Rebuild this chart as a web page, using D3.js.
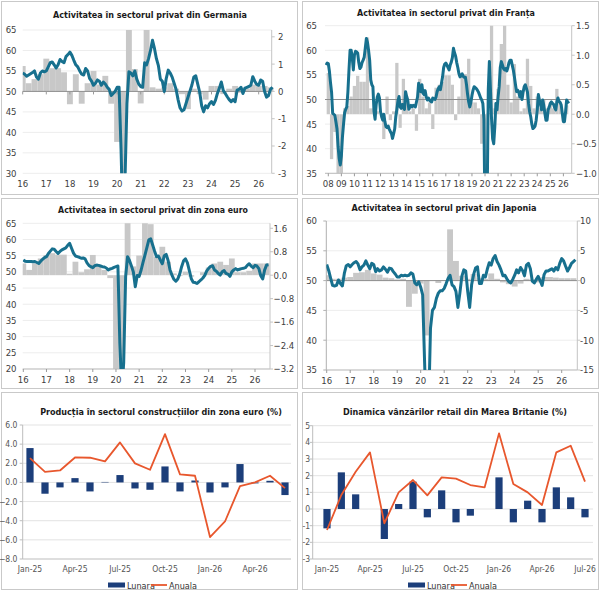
<!DOCTYPE html>
<html>
<head>
<meta charset="utf-8">
<script src="https://cdn.jsdelivr.net/npm/d3@7"></script>
<style>
  body { margin: 0; background: #fff; }
  svg text { font-family: "Liberation Sans Narrow", "Arial Narrow", "DejaVu Sans Condensed", "Liberation Sans", sans-serif; }
</style>
</head>
<body>
<svg id="chart" width="600" height="591"></svg>
<script>
// ---- data: PMI (monthly, left axis) and GDP q/q (quarterly, right axis) ----
const deYears = ["16","17","18","19","20","21","22","23","24","25","26"];
const dePmi = [54.5,54.2,53.7,54.0,54.3,54.6,55.0,53.5,53.0,54.5,55.0,54.8,
  55.0,56.0,57.0,57.2,56.5,55.7,56.5,57.8,57.3,57.0,58.5,59.0,
  59.6,58.8,57.6,56.5,56.0,55.0,54.2,54.0,55.6,55.0,53.2,52.5,
  51.5,52.0,52.8,52.5,51.5,52.3,51.8,51.0,50.5,49.0,49.5,50.0,
  51.0,51.0,36.0,17.0,28.0,47.0,54.8,54.5,53.8,55.0,53.0,51.8,
  51.2,51.0,57.0,56.5,58.0,60.0,62.5,60.5,58.0,56.3,53.0,52.5,
  50.0,53.2,55.2,54.5,53.5,52.0,50.5,48.0,46.0,45.2,45.5,47.0,
  48.5,50.0,51.5,53.5,53.8,51.8,49.8,46.5,45.0,46.5,46.0,47.0,
  47.5,46.8,47.8,49.5,50.8,52.3,50.2,49.5,48.7,48.0,47.5,48.0,
  47.5,50.3,50.5,51.0,49.5,50.8,51.0,51.2,51.5,53.6,52.5,51.7,
  51.5,52.8,52.5,50.0,48.6,49.0,50.5,51.0];
const deGdp = [0.93,0.3,0.45,0.63,1.2,0.85,0.85,0.7,-0.47,0.63,-0.45,0.3,
  0.75,0.25,0.57,-0.45,-1.85,-3.5,3.0,0.82,-0.44,2.5,0.15,0.1,
  0.15,0.3,0.1,-0.1,-0.65,0.1,-0.1,-0.3,0.2,0.2,-0.1,0.1,
  0.2,-0.05,0.1,0.25,0.2,0.2,0.15];

const frYears = ["08","09","10","11","12","13","14","15","16","17","18","19","20","21","22","23","24","25","26"];
const frPmi = [57.0,57.4,57.3,55.8,53.5,51.5,47.2,47.0,46.8,45.5,44.0,40.4,
  38.0,36.7,38.5,42.4,45.0,47.3,48.0,48.5,51.5,56.0,60.0,60.0,
  58.5,56.0,59.0,59.8,59.7,59.4,57.5,56.3,56.6,57.5,58.0,58.6,
  60.5,62.4,61.6,60.0,58.0,54.0,53.0,52.6,47.5,46.0,49.0,50.5,
  51.1,50.3,47.5,46.5,45.8,47.0,45.5,44.5,44.3,44.6,44.0,43.5,
  43.1,42.1,43.0,44.0,46.5,48.0,49.7,50.6,48.5,48.2,49.0,48.5,
  48.0,51.6,50.6,49.9,48.0,48.5,48.8,48.5,48.8,48.7,48.5,49.5,
  50.5,53.3,51.8,51.6,53.0,51.3,51.0,51.8,50.5,49.9,50.3,49.9,
  49.6,49.5,50.3,50.2,50.0,50.5,51.6,52.2,52.6,52.0,53.3,54.6,
  56.5,57.2,57.4,57.0,56.5,56.0,57.0,57.6,58.5,60.4,59.5,58.8,
  57.5,56.5,55.3,54.6,54.8,55.2,54.7,54.5,54.5,53.0,51.0,49.5,
  48.5,49.4,50.8,51.9,52.6,52.4,52.2,51.9,51.5,50.9,50.3,49.9,
  49.2,46.0,25.0,12.0,30.0,52.0,57.7,52.0,46.0,42.0,41.0,44.5,
  49.2,47.9,50.5,52.6,56.5,57.7,57.0,56.3,56.0,56.3,55.8,56.5,
  57.5,58.0,58.0,57.0,56.0,54.6,53.0,51.6,51.9,51.5,50.5,51.6,
  50.0,51.5,52.6,53.0,52.3,51.5,49.2,47.5,46.5,45.0,44.1,44.3,
  44.6,45.8,47.9,51.0,49.9,49.0,47.9,49.9,48.8,47.2,45.8,45.8,
  47.9,48.5,49.2,49.5,49.2,49.0,48.3,47.9,49.5,50.3,49.6,49.4,
  48.9,47.2,45.5,45.5,47.5,49.9,49.5,49.2];
const frGdp = [0.7,-0.76,-0.3,-1.5,-1.5,0.1,0.14,0.3,0.48,0.65,0.55,0.55,
  1.3,0.1,0.1,0.05,0.0,-0.42,0.3,-0.1,0.05,0.87,-0.23,0.6,
  0.2,0.05,0.1,-0.28,0.6,0.3,0.1,0.2,-0.25,0.45,0.5,0.55,
  0.66,0.66,0.5,-0.1,0.3,0.68,0.68,0.94,0.2,0.2,0.1,-0.5,
  -1.5,0.02,1.6,0.1,0.43,1.19,1.6,0.5,0.2,0.85,0.3,0.05,
  0.1,0.94,0.48,0.1,0.3,0.1,0.25,0.1,0.2,0.1,0.43,0.2,
  -0.11,0.15];

const ezYears = ["16","17","18","19","20","21","22","23","24","25","26"];
const ezPmi = [53.7,53.3,53.2,53.2,53.2,53.1,53.2,52.9,52.6,53.3,53.9,54.4,
  54.7,55.7,56.4,57.1,57.0,56.3,55.7,56.3,56.8,57.1,57.4,58.2,
  58.8,57.3,55.8,54.9,54.7,54.5,54.2,54.3,54.0,52.8,52.0,51.6,
  51.3,51.9,52.1,52.0,51.8,51.6,51.5,51.2,50.6,50.9,51.1,51.4,
  51.6,51.8,28.0,13.6,22.0,48.5,54.7,53.5,51.8,50.0,45.4,48.9,
  48.6,50.5,52.9,55.2,57.5,59.9,60.2,58.3,56.4,54.7,54.9,53.6,
  52.5,55.0,55.4,53.5,50.6,49.0,47.7,47.1,47.8,49.3,51.6,53.4,
  54.0,52.8,50.4,47.9,46.8,46.7,46.4,47.0,47.5,48.1,48.9,50.3,
  51.1,51.7,51.9,50.6,50.2,49.5,49.0,50.0,50.4,49.5,49.3,48.6,
  50.0,50.6,51.0,50.6,50.8,51.0,51.1,51.3,52.0,52.5,51.8,51.3,
  52.0,51.8,51.0,48.8,47.8,50.6,52.1,52.2];
const ezGdp = [0.4,0.18,0.4,0.57,0.69,0.75,0.7,0.7,0.05,0.46,0.1,0.2,
  0.69,0.3,0.18,-0.1,-3.6,-11.0,12.5,0.3,0.67,2.2,1.74,0.63,
  0.97,0.46,0.06,-0.03,0.12,-0.05,0.0,0.1,0.26,0.4,0.46,0.35,
  0.57,0.1,0.1,0.15,0.4,0.4,0.4];

const jpYears = ["16","17","18","19","20","21","22","23","24","25","26"];
const jpPmi = [52.7,51.7,50.4,49.2,49.1,49.2,50.1,49.5,49.1,51.2,52.5,52.7,
  52.3,52.7,53.0,53.2,52.8,51.8,52.3,52.6,53.3,52.6,52.0,52.9,
  52.7,51.5,52.0,51.6,51.8,52.3,51.9,51.4,52.1,52.0,51.5,51.1,
  50.6,50.6,50.9,50.8,50.9,50.8,50.9,51.3,51.1,49.6,49.3,49.8,
  48.9,47.6,36.2,25.8,27.8,42.0,45.0,45.5,47.0,47.9,48.3,48.3,
  48.7,49.5,50.4,50.9,49.3,49.0,48.2,45.5,47.9,50.7,51.8,51.6,
  48.2,45.5,49.3,51.0,52.1,52.3,49.5,49.5,50.9,50.6,51.9,53.0,
  52.6,53.7,54.2,53.2,52.6,51.8,50.8,50.9,50.3,49.8,49.6,50.2,
  50.9,51.8,51.3,52.2,51.7,50.8,52.6,52.9,52.0,49.9,49.6,50.2,
  50.7,50.0,49.2,51.0,51.6,51.6,51.8,52.0,51.6,52.2,51.8,52.9,
  53.7,53.3,52.4,51.6,52.2,52.9,53.2,53.5];
const jpGdp = [0.9,0.3,0.3,0.5,0.6,1.3,1.4,1.8,1.2,1.0,0.5,0.4,
  0.2,0.3,-4.4,-2.2,-0.5,-9.2,0.0,-0.4,0.1,8.6,3.3,0.8,
  0.3,1.1,0.4,0.3,1.2,0.3,-0.3,-0.6,-1.0,-0.5,0.3,0.2,
  -0.3,0.6,0.6,0.5,0.4,0.4,0.4];

// ---- data: monthly bars + annual line ----
const constrMonthsLbl = ["Jan-25","Feb-25","Mar-25","Apr-25","May-25","Jun-25","Jul-25","Aug-25","Sep-25",
  "Oct-25","Nov-25","Dec-25","Jan-26","Feb-26","Mar-26","Apr-26","May-26","Jun-26"];
const constrLunara = [3.59,-1.18,-0.52,0.45,-0.94,0.05,0.77,-0.63,-0.77,1.67,-0.94,0.2,-1.05,-0.52,1.92,-0.1,0.17,-1.32];
const constrAnuala = [2.54,1.11,1.25,2.61,2.58,2.2,4.18,1.99,1.32,5.05,0.84,0.7,-5.71,-4.08,-0.38,0.0,0.7,-0.59];

const ukMonthsLbl = ["Jan-25","Feb-25","Mar-25","Apr-25","May-25","Jun-25","Jul-25","Aug-25","Sep-25",
  "Oct-25","Nov-25","Dec-25","Jan-26","Feb-26","Mar-26","Apr-26","May-26","Jun-26","Jul-26"];
const ukLunara = [-1.16,2.2,0.88,0,-1.8,0.3,1.64,-0.5,1.12,-0.8,-0.4,0,1.9,-0.8,0.5,-0.8,1.3,0.7,-0.5];
const ukAnuala = [-1.26,0.84,2.24,3.4,-0.86,1.0,1.74,0.82,1.9,1.82,1.44,1.3,4.54,1.5,1.0,0.24,3.4,3.8,1.64];

const TEAL = "#17708e", BARGRAY = "#c8c8c8", NAVY = "#1c3e7a", ORANGE = "#e8572d", TXT = "#404040";

const svg = d3.select("#chart");

// panel frames
[[1,1,296,193],[302,1,296,193],[1,198,296,190],[302,198,296,190],[1,392,296,197],[302,392,296,197]]
  .forEach(function (r) {
    svg.append("rect").attr("x", r[0] + 0.5).attr("y", r[1] + 0.5).attr("width", r[2]).attr("height", r[3])
      .attr("fill", "none").attr("stroke", "#c9c9c9");
  });

// bold title, font size fitted so the text spans the wanted width
function title (txt, x, y, size, len) {
  const t = svg.append("text").attr("x", x).attr("y", y).attr("text-anchor", "middle")
    .attr("font-size", size).attr("font-weight", "bold").attr("fill", "#1a1a1a").text(txt);
  const w = t.node().getComputedTextLength();
  if (w > 0) t.attr("font-size", (size * len / w).toFixed(2));
}

function pmiPanel (p) {
  const g = svg.append("g");
  const x = d3.scaleLinear().domain([0, p.years.length - 1].map(d => d * 12)).range(p.xr);
  const yL = d3.scaleLinear().domain(p.leftDom).range([p.bottom, p.top]);
  const yR = d3.scaleLinear().domain(p.rightDom).range([p.bottom, p.top]);
  const leftTicks = d3.range(p.leftDom[0], p.leftDom[1] + 0.01, p.leftStep);

  svg.append("clipPath").attr("id", "clip" + p.id).append("rect")
    .attr("x", p.left).attr("y", p.top).attr("width", p.right - p.left + 3).attr("height", p.bottom - p.top);

  // faint gridlines
  g.selectAll(".grid").data(leftTicks).enter().append("line")
    .attr("x1", p.left).attr("x2", p.right)
    .attr("y1", d => yL(d)).attr("y2", d => yL(d))
    .attr("stroke", "#ededed");

  // quarterly bars (right axis), centred on first month of quarter
  g.append("g").attr("clip-path", "url(#clip" + p.id + ")")
    .selectAll("rect").data(p.bars).enter().append("rect")
    .attr("x", (d, i) => x(3 * i - 1.5))
    .attr("width", (d, i) => x(3 * i + 1.5) - x(3 * i - 1.5))
    .attr("y", d => yR(Math.max(0, d)))
    .attr("height", d => Math.abs(yR(d) - yR(0)))
    .attr("fill", BARGRAY);

  // 50 line
  if (p.midLine) {
    g.append("line").attr("x1", p.left).attr("x2", p.right)
      .attr("y1", yL(50)).attr("y2", yL(50)).attr("stroke", "#8f8f8f").attr("stroke-width", 1);
  }
  // x axis ticks (either on the 50 line or at the bottom)
  const axY = p.tickOnMid ? yL(50) : p.bottom;
  if (!p.tickOnMid) {
    g.append("line").attr("x1", p.left).attr("x2", p.right).attr("y1", axY).attr("y2", axY).attr("stroke", "#bdbdbd");
  }
  g.selectAll(".xt").data(p.years).enter().append("line")
    .attr("x1", (d, i) => x(i * 12)).attr("x2", (d, i) => x(i * 12))
    .attr("y1", axY).attr("y2", axY + 3).attr("stroke", "#9a9a9a");

  // right axis line
  g.append("line").attr("x1", p.right).attr("x2", p.right).attr("y1", p.top).attr("y2", p.bottom).attr("stroke", "#c4c4c4");
  g.selectAll(".rt").data(p.rightTicks).enter().append("line")
    .attr("x1", p.right).attr("x2", p.right + 3).attr("y1", d => yR(d)).attr("y2", d => yR(d)).attr("stroke", "#c4c4c4");
  if (p.leftAxis) {
    g.append("line").attr("x1", p.left).attr("x2", p.left).attr("y1", p.top).attr("y2", p.bottom).attr("stroke", "#b0b0b0");
    g.selectAll(".lt").data(leftTicks).enter().append("line")
      .attr("x1", p.left - 3).attr("x2", p.left).attr("y1", d => yL(d)).attr("y2", d => yL(d)).attr("stroke", "#b0b0b0");
  }

  // PMI line
  const line = d3.line().x((d, i) => x(p.start + i)).y(d => yL(d));
  g.append("path").datum(p.pmi).attr("clip-path", "url(#clip" + p.id + ")")
    .attr("d", line).attr("fill", "none").attr("stroke", TEAL)
    .attr("stroke-width", 3).attr("stroke-linejoin", "round");

  // labels
  g.selectAll(".ll").data(leftTicks).enter().append("text")
    .attr("x", p.leftLabX).attr("y", d => yL(d) + 3.4).attr("text-anchor", "end")
    .attr("font-size", 9.5).attr("fill", TXT).text(d => d);
  g.selectAll(".rl").data(p.rightTicks).enter().append("text")
    .attr("x", p.rightLabX).attr("y", d => yR(d) + 3.4)
    .attr("font-size", 9.5).attr("fill", TXT).text(p.rightFmt);
  g.selectAll(".xl").data(p.years).enter().append("text")
    .attr("x", (d, i) => x(i * 12)).attr("y", p.xLabY).attr("text-anchor", "middle")
    .attr("font-size", 9.5).attr("fill", TXT).text(d => d);
}

pmiPanel({ id: "de", years: deYears, pmi: dePmi, bars: deGdp, start: 0,
  xr: [22.7, 258.7], left: 22.7, right: 271.7, top: 30, bottom: 173.3,
  leftDom: [30, 65], leftStep: 5, rightDom: [-3, 2.25], rightTicks: [-3, -2, -1, 0, 1, 2],
  rightFmt: d => d, midLine: true, tickOnMid: true,
  leftLabX: 16.5, rightLabX: 278, xLabY: 186.5 });
title("Activitatea în sectorul privat din Germania", 150, 18, 12, 194);

pmiPanel({ id: "fr", years: frYears, pmi: frPmi, bars: frGdp, start: -2,
  xr: [328.3, 328.3 + 18 * 13.06], left: 325, right: 571.7, top: 25.7, bottom: 173.3,
  leftDom: [35, 65], leftStep: 5, rightDom: [-1, 1.5], rightTicks: [-1, -0.5, 0, 0.5, 1, 1.5],
  rightFmt: d3.format(".1f"), midLine: true, tickOnMid: false,
  leftLabX: 317, rightLabX: 576, xLabY: 187 });
title("Activitatea în sectorul privat din Franța", 446, 16, 12, 178);

pmiPanel({ id: "ez", years: ezYears, pmi: ezPmi, bars: ezGdp, start: 0,
  xr: [23.3, 255], left: 22.7, right: 270, top: 223.3, bottom: 369,
  leftDom: [20, 65], leftStep: 5, rightDom: [-3.2, 1.77], rightTicks: [-3.2, -2.4, -1.6, -0.8, 0, 0.8, 1.6],
  rightFmt: d3.format(".1f"), midLine: false, tickOnMid: false,
  leftLabX: 16.5, rightLabX: 273.5, xLabY: 382.5 });
title("Activitatea în sectorul privat din zona euro", 153, 212.5, 12, 190);

pmiPanel({ id: "jp", years: jpYears, pmi: jpPmi, bars: jpGdp, start: 0,
  xr: [326.7, 561.7], left: 326.3, right: 577.3, top: 221, bottom: 370,
  leftDom: [35, 60], leftStep: 5, rightDom: [-15, 10], rightTicks: [-15, -10, -5, 0, 5, 10],
  rightFmt: d => d, midLine: true, tickOnMid: false, leftAxis: true,
  leftLabX: 317, rightLabX: 580, xLabY: 383.5 });
title("Activitatea în sectorul privat din Japonia", 444, 211, 12, 185);

function monthPanel (p) {
  const g = svg.append("g");
  const x = d3.scaleLinear().domain([0, p.labels.length - 1]).range(p.xr);
  const y = d3.scaleLinear().domain(p.yDom).range([p.bottom, p.top]);
  const ticks = d3.range(p.yDom[0], p.yDom[1] + 0.01, p.yStep);

  g.selectAll(".grid").data(ticks).enter().append("line")
    .attr("x1", p.left).attr("x2", p.right).attr("y1", d => y(d)).attr("y2", d => y(d))
    .attr("stroke", d => d === p.yDom[0] ? "#bdbdbd" : "#e3e3e3");
  g.append("line").attr("x1", p.left).attr("x2", p.left).attr("y1", p.top).attr("y2", p.bottom).attr("stroke", "#bdbdbd");
  g.selectAll(".yt").data(ticks).enter().append("line")
    .attr("x1", p.left - 3).attr("x2", p.left).attr("y1", d => y(d)).attr("y2", d => y(d)).attr("stroke", "#bdbdbd");

  g.selectAll(".bar").data(p.monthly).enter().append("rect")
    .attr("x", (d, i) => x(i) - 3.6).attr("width", 7.2)
    .attr("y", d => y(Math.max(0, d))).attr("height", d => Math.abs(y(d) - y(0)))
    .attr("fill", NAVY);

  g.append("path").datum(p.annual)
    .attr("d", d3.line().x((d, i) => x(i)).y(d => y(d)))
    .attr("fill", "none").attr("stroke", ORANGE).attr("stroke-width", 1.8).attr("stroke-linejoin", "round");

  g.selectAll(".yl").data(ticks).enter().append("text")
    .attr("x", p.yLabX).attr("y", d => y(d) + 3).attr("text-anchor", "end")
    .attr("font-size", 8.5).attr("fill", "#555").text(p.yFmt);
  g.selectAll(".xl").data(p.labels.map((d, i) => [d, i]).filter(d => d[1] % 3 === 0)).enter().append("text")
    .attr("x", d => x(d[1])).attr("y", 571.5).attr("text-anchor", "middle")
    .attr("font-size", 8.5).attr("fill", "#555").text(d => d[0]);

  // legend
  const lx = p.legendX;
  g.append("rect").attr("x", lx).attr("y", 582.5).attr("width", 17).attr("height", 5).attr("fill", NAVY);
  g.append("text").attr("x", lx + 19).attr("y", 588.5).attr("font-size", 9).attr("fill", "#333").text("Lunara");
  g.append("line").attr("x1", lx + 43).attr("x2", lx + 59).attr("y1", 585).attr("y2", 585)
    .attr("stroke", ORANGE).attr("stroke-width", 1.8);
  g.append("text").attr("x", lx + 61).attr("y", 588.5).attr("font-size", 9).attr("fill", "#333").text("Anuala");
}

monthPanel({ labels: constrMonthsLbl, monthly: constrLunara, annual: constrAnuala,
  xr: [30, 285], left: 22.7, right: 291, top: 425, bottom: 559,
  yDom: [-8, 6], yStep: 2, yFmt: d3.format(".1f"), yLabX: 17.5, legendX: 108 });
title("Producția în sectorul construcțiilor din zona euro (%)", 161, 414.5, 13, 242);

monthPanel({ labels: ukMonthsLbl, monthly: ukLunara, annual: ukAnuala,
  xr: [327, 585], left: 312.7, right: 593, top: 425.7, bottom: 559,
  yDom: [-3, 5], yStep: 1, yFmt: d => d, yLabX: 310, legendX: 408 });
title("Dinamica vânzărilor retail din Marea Britanie (%)", 455, 414.5, 13, 224);
</script>
</body>
</html>
